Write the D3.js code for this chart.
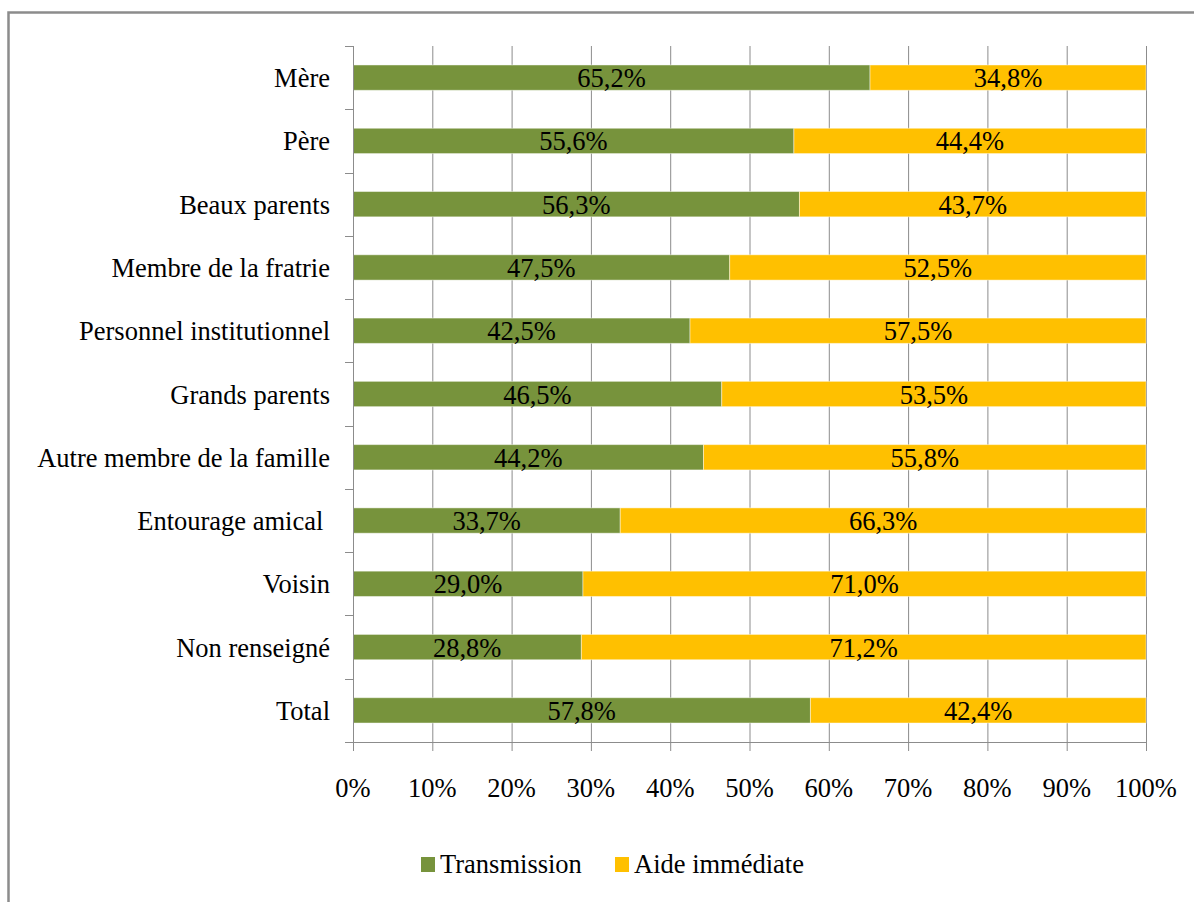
<!DOCTYPE html>
<html><head><meta charset="utf-8">
<script src="https://cdn.jsdelivr.net/npm/d3@7"></script>
<style>body{margin:0;background:#fff}svg{display:block}</style>
</head><body><svg id="c" width="1194" height="902"></svg>
<script>
const categories = ["Mère","Père","Beaux parents","Membre de la fratrie","Personnel institutionnel","Grands parents","Autre membre de la famille","Entourage amical\u00a0","Voisin","Non renseigné","Total"];
const transmission = [65.2,55.6,56.3,47.5,42.5,46.5,44.2,33.7,29.0,28.8,57.8];
const aide = [34.8,44.4,43.7,52.5,57.5,53.5,55.8,66.3,71.0,71.2,42.4];
const seriesNames = ["Transmission","Aide immédiate"];
const colors = ["#77933C","#FFC000"];
const xTicks = [0,0.1,0.2,0.3,0.4,0.5,0.6,0.7,0.8,0.9,1];

const svg = d3.select("#c");
const FONT = "'Liberation Serif'";
svg.attr("font-family", FONT);
const FS = 26.5;
const fmt = v => v.toFixed(1).replace(".", ",") + "%";

svg.append("rect").attr("x",8.5).attr("y",12.5).attr("width",1200).attr("height",900)
  .attr("fill","none").attr("stroke","#8c8c8c").attr("stroke-width",2.5);

const x = d3.scaleLinear().domain([0,1]).range([353,1146]);
const y = d3.scaleBand().domain(categories).range([46,742]).paddingInner(0.6).paddingOuter(0.3);

svg.append("g").selectAll("line").data(xTicks.slice(1)).join("line")
  .attr("x1",d=>x(d)+0.5).attr("x2",d=>x(d)+0.5).attr("y1",46).attr("y2",742)
  .attr("stroke","#8c8c8c").attr("stroke-width",1);

const rows = categories.map((c,i)=>{const t=transmission[i]+aide[i];return {c,v:[transmission[i],aide[i]],n:[transmission[i]/t,aide[i]/t]};});
rows.forEach(r=>{
  let acc=0;
  r.n.forEach((p,j)=>{
    const x0=x(acc), x1=x(acc+p);
    svg.append("rect").attr("x",x0).attr("y",y(r.c)).attr("width",x1-x0).attr("height",y.bandwidth())
      .attr("fill",colors[j]).attr("stroke","rgba(255,255,255,0.45)").attr("stroke-width",1);
    svg.append("text").attr("x",(x0+x1)/2).attr("y",y(r.c)+y.bandwidth()/2+9.5)
      .attr("font-family",FONT).attr("text-anchor","middle").attr("font-size",FS).attr("fill","#000").text(fmt(r.v[j]));
    acc+=p;
  });
});

const yAxis = svg.append("g");
yAxis.append("line").attr("x1",353.5).attr("x2",353.5).attr("y1",46).attr("y2",742).attr("stroke","#8c8c8c");
const bounds = d3.range(categories.length+1).map(i=>46+i*y.step());
yAxis.selectAll(".yt").data(bounds).join("line").attr("x1",345).attr("x2",353).attr("y1",d=>Math.round(d)+0.5).attr("y2",d=>Math.round(d)+0.5).attr("stroke","#8c8c8c");
yAxis.selectAll("text").data(categories).join("text").attr("x",330).attr("y",d=>y(d)+y.bandwidth()/2+9.5)
  .attr("font-family",FONT).attr("text-anchor","end").attr("font-size",FS).attr("fill","#000").style("white-space","pre").text(d=>d);

const xAxis = svg.append("g");
xAxis.append("line").attr("x1",345).attr("x2",1146).attr("y1",742.5).attr("y2",742.5).attr("stroke","#8c8c8c");
xAxis.selectAll(".xt").data(xTicks).join("line").attr("x1",d=>x(d)+0.5).attr("x2",d=>x(d)+0.5).attr("y1",742).attr("y2",751).attr("stroke","#8c8c8c");
xAxis.selectAll("text").data(xTicks).join("text").attr("x",d=>x(d)).attr("y",797)
  .attr("font-family",FONT).attr("text-anchor","middle").attr("font-size",FS).attr("fill","#000").text(d=>Math.round(d*100)+"%");

const leg = svg.append("g");
const legX = [421,615];
seriesNames.forEach((s,i)=>{
  leg.append("rect").attr("x",legX[i]).attr("y",857).attr("width",14).attr("height",15).attr("fill",colors[i]);
  leg.append("text").attr("x",legX[i]+19).attr("y",873).attr("font-family",FONT).attr("font-size",FS).attr("fill","#000").text(s);
});
</script></body></html>
